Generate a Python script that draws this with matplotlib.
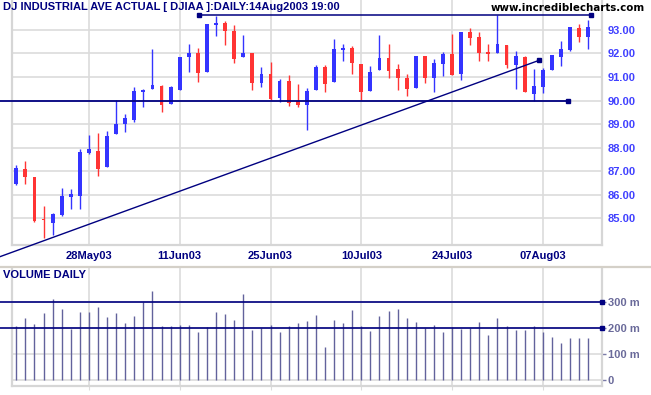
import matplotlib
matplotlib.use('Agg')
import matplotlib.pyplot as plt
import numpy as np
import pandas as pd
from matplotlib.lines import Line2D

# ---------------- data ----------------
dates = pd.bdate_range('2003-05-15', '2003-08-14', freq='C',
                       holidays=['2003-05-26', '2003-07-04'])

opens = [86.46, 87.09, 86.76, 84.94, 84.82, 85.16, 85.92, 85.96, 87.77, 87.87,
         87.16, 88.56, 89.00, 89.18, 90.36, 90.48, 90.63, 89.84, 90.46, 91.84,
         92.01, 91.20, 93.20, 93.28, 92.97, 91.84, 92.04, 90.73, 91.14, 90.09,
         90.84, 89.96, 89.82, 90.46, 91.44, 90.77, 92.13, 92.25, 91.57, 90.39,
         91.31, 91.82, 91.35, 90.94, 90.55, 91.91, 90.97, 91.57, 91.99, 91.14,
         92.89, 92.72, 92.08, 92.04, 92.38, 91.52, 91.87, 90.29, 90.59, 91.31,
         91.87, 92.16, 93.06, 92.72]
highs = [87.27, 87.44, 86.76, 85.52, 85.21, 86.29, 86.23, 87.95, 88.55, 88.62,
         88.72, 90.04, 89.44, 90.57, 90.48, 92.21, 90.67, 90.62, 91.87, 92.39,
         92.25, 93.23, 93.58, 93.37, 93.20, 92.80, 92.04, 91.44, 91.65, 90.93,
         91.10, 90.72, 90.55, 91.52, 91.52, 92.63, 92.39, 92.33, 91.57, 91.48,
         92.80, 92.42, 91.57, 91.14, 91.91, 91.91, 91.78, 92.08, 92.84, 92.89,
         93.06, 92.93, 92.42, 93.62, 92.38, 92.12, 91.91, 91.35, 91.40, 91.95,
         92.55, 93.14, 93.27, 93.40]
lows = [86.43, 86.46, 84.86, 84.18, 84.29, 85.11, 85.41, 85.41, 87.74, 86.80,
        87.16, 88.56, 88.65, 89.11, 89.71, 90.48, 89.50, 89.84, 90.46, 91.20,
        90.77, 91.20, 92.73, 92.35, 91.58, 91.84, 90.43, 90.59, 90.04, 89.92,
        89.75, 89.74, 88.73, 90.46, 90.38, 90.77, 91.67, 91.11, 90.01, 90.39,
        91.31, 90.94, 90.46, 90.21, 90.55, 90.76, 90.38, 91.06, 91.10, 90.89,
        92.38, 91.70, 91.70, 92.04, 91.40, 90.50, 90.38, 89.99, 90.33, 91.31,
        91.48, 92.12, 92.49, 92.21]
closes = [87.13, 86.77, 84.89, 84.91, 85.18, 85.95, 86.04, 87.82, 87.95, 87.10,
          88.50, 89.01, 89.26, 90.42, 90.43, 90.67, 89.79, 90.57, 91.87, 92.01,
          91.16, 93.23, 93.28, 92.94, 91.78, 92.04, 90.73, 91.14, 90.08, 90.82,
          89.88, 89.82, 90.42, 91.44, 90.69, 92.21, 92.25, 91.58, 90.35, 91.23,
          91.82, 91.27, 90.94, 90.50, 91.91, 90.97, 91.61, 91.99, 91.10, 92.89,
          92.67, 92.04, 91.99, 92.40, 91.52, 91.91, 90.38, 90.63, 91.31, 91.95,
          92.21, 93.14, 92.72, 93.14]
volumes = [208, 239, 216, 258, 314, 274, 195, 262, 262, 282,
           243, 258, 220, 247, 300, 344, 208, 208, 212, 212,
           185, 204, 262, 255, 231, 332, 193, 200, 212, 185,
           208, 220, 227, 251, 127, 231, 220, 270, 208, 189,
           247, 266, 274, 239, 224, 200, 212, 185, 204, 196,
           200, 224, 173, 239, 208, 193, 193, 208, 185, 165,
           142, 161, 161, 161]

tick_dates = ['2003-05-28', '2003-06-11', '2003-06-25', '2003-07-10', '2003-07-24', '2003-08-07']
tick_labels = ['28May03', '11Jun03', '25Jun03', '10Jul03', '24Jul03', '07Aug03']
price_ticks = [85, 86, 87, 88, 89, 90, 91, 92, 93]
price_tick_labels = ['85.00', '86.00', '87.00', '88.00', '89.00', '90.00', '91.00', '92.00', '93.00']
vol_ticks = [0, 100, 200, 300]
vol_tick_labels = ['0', '100 m', '200 m', '300 m']

support_level = 90.0
resistance_level = 93.62
trend_x = [-1.8, 57.6]
trend_y = [83.37, 91.71]
vol_levels = [300, 200]

# ---------------- layout ----------------
W, H = 651, 395
fig = plt.figure(figsize=(W / 100, H / 100), dpi=100)
fig.patch.set_facecolor('white')

L, R = 12, 601.7
ax = fig.add_axes([L / W, 1 - 245 / H, (R - L) / W, 245 / H])
axv = fig.add_axes([L / W, 1 - 386.3 / H, (R - L) / W, (386.3 - 268) / H])

n = len(dates)
x = np.arange(n)
date_index = {d.strftime('%Y-%m-%d'): i for i, d in enumerate(dates)}
tick_pos = [date_index[d] for d in tick_dates]

BLUE = '#3434ff'
RED = '#ff3434'
NAVY = '#000080'
GRID = '#dcdcdc'
SPINE = '#d6d6d6'
FONT = 'Liberation Sans'

xlim = (-0.474, 64.48)

# ---------------- price panel ----------------
o = np.array(opens); c = np.array(closes)
hi = np.array(highs); lo = np.array(lows)
cols = [BLUE if cc >= oo else RED for oo, cc in zip(o, c)]
ax.vlines(x, lo, hi, colors=cols, linewidth=1.0, zorder=3)
bottoms = np.minimum(o, c)
heights = np.maximum(np.abs(c - o), 0.05)
ax.bar(x, heights, bottom=bottoms, width=0.42, color=cols, linewidth=0, zorder=4)

ax.set_xlim(*xlim)
ax.set_ylim(83.866, 94.27)
ax.set_xticks(tick_pos)
ax.set_xticklabels(tick_labels)
ax.set_yticks(price_ticks)
ax.set_yticklabels(price_tick_labels)
ax.yaxis.tick_right()
ax.tick_params(axis='y', length=0, pad=4, labelcolor='#4040ff', labelsize=8)
ax.tick_params(axis='x', length=0, pad=4, labelcolor=NAVY, labelsize=8)
for lab in ax.get_xticklabels() + ax.get_yticklabels():
    lab.set_fontfamily(FONT)
    lab.set_fontweight('bold')
ax.grid(True, color=GRID, linewidth=1.2, zorder=0)
ax.set_axisbelow(True)
for s in ['left', 'right', 'bottom']:
    ax.spines[s].set_color(SPINE)
    ax.spines[s].set_linewidth(1.6)
ax.spines['top'].set_visible(False)

# reference lines
ax.plot([trend_x[0], 60.8], [support_level, support_level], color=NAVY, lw=1.3,
        clip_on=False, zorder=5)
ax.plot([60.8], [support_level], marker='s', ms=3, color=NAVY, clip_on=False, zorder=5)
ax.plot([20.1, 63.3], [resistance_level, resistance_level], color=NAVY, lw=1.1,
        clip_on=False, zorder=5)
ax.plot([20.1, 63.3], [resistance_level, resistance_level], ls='none', marker='s', ms=3,
        color=NAVY, clip_on=False, zorder=5)
ax.plot(trend_x, trend_y, color=NAVY, lw=1.0, clip_on=False, zorder=5)
ax.plot([trend_x[1]], [trend_y[1]], marker='s', ms=3, color=NAVY, clip_on=False, zorder=5)

# ---------------- volume panel ----------------
VCOL = '#62629c'
axv.vlines(x, 0, volumes, colors=VCOL, linewidth=1.0, zorder=3)
axv.set_xlim(*xlim)
axv.set_ylim(-25.6, 432.9)
axv.set_xticks(tick_pos)
axv.set_xticklabels([])
axv.set_yticks(vol_ticks)
axv.set_yticklabels(vol_tick_labels)
axv.yaxis.tick_right()
axv.tick_params(axis='y', length=3, width=1, color='#7a7aa8', pad=1.5,
                labelcolor='#6a6a9a', labelsize=8)
axv.tick_params(axis='x', length=3, color=GRID)
for lab in axv.get_yticklabels():
    lab.set_fontfamily(FONT)
    lab.set_fontweight('bold')
axv.grid(True, color=GRID, linewidth=1.2, zorder=0)
axv.set_axisbelow(True)
for s in ['left', 'right', 'bottom']:
    axv.spines[s].set_color(SPINE)
    axv.spines[s].set_linewidth(1.6)
axv.spines['top'].set_visible(False)
for lv in vol_levels:
    axv.plot([trend_x[0], xlim[1]], [lv, lv], color=NAVY, lw=1.2, clip_on=False, zorder=5)
    axv.plot([xlim[1]], [lv], marker='s', ms=3, color=NAVY, clip_on=False, zorder=5)

# separator between panels
fig.add_artist(Line2D([0, 1], [1 - 266.5 / H, 1 - 266.5 / H], color='#d4d0c8',
                      linewidth=1.6, transform=fig.transFigure))

# ---------------- texts ----------------
fig.text(3 / W, 1 - 7.5 / H, 'DJ INDUSTRIAL AVE ACTUAL [ DJIAA ]:DAILY:14Aug2003 19:00',
         ha='left', va='center', fontsize=8, fontweight='bold', color=NAVY, family=FONT)
fig.text(645 / W, 1 - 8 / H, 'www.incrediblecharts.com', ha='right', va='center',
         fontsize=7.4, fontweight='bold', color='black', family='DejaVu Sans')
fig.text(3 / W, 1 - 275 / H, 'VOLUME DAILY', ha='left', va='center',
         fontsize=8, fontweight='bold', color=NAVY, family=FONT)

fig.savefig('out.png', dpi=100, facecolor='white')
